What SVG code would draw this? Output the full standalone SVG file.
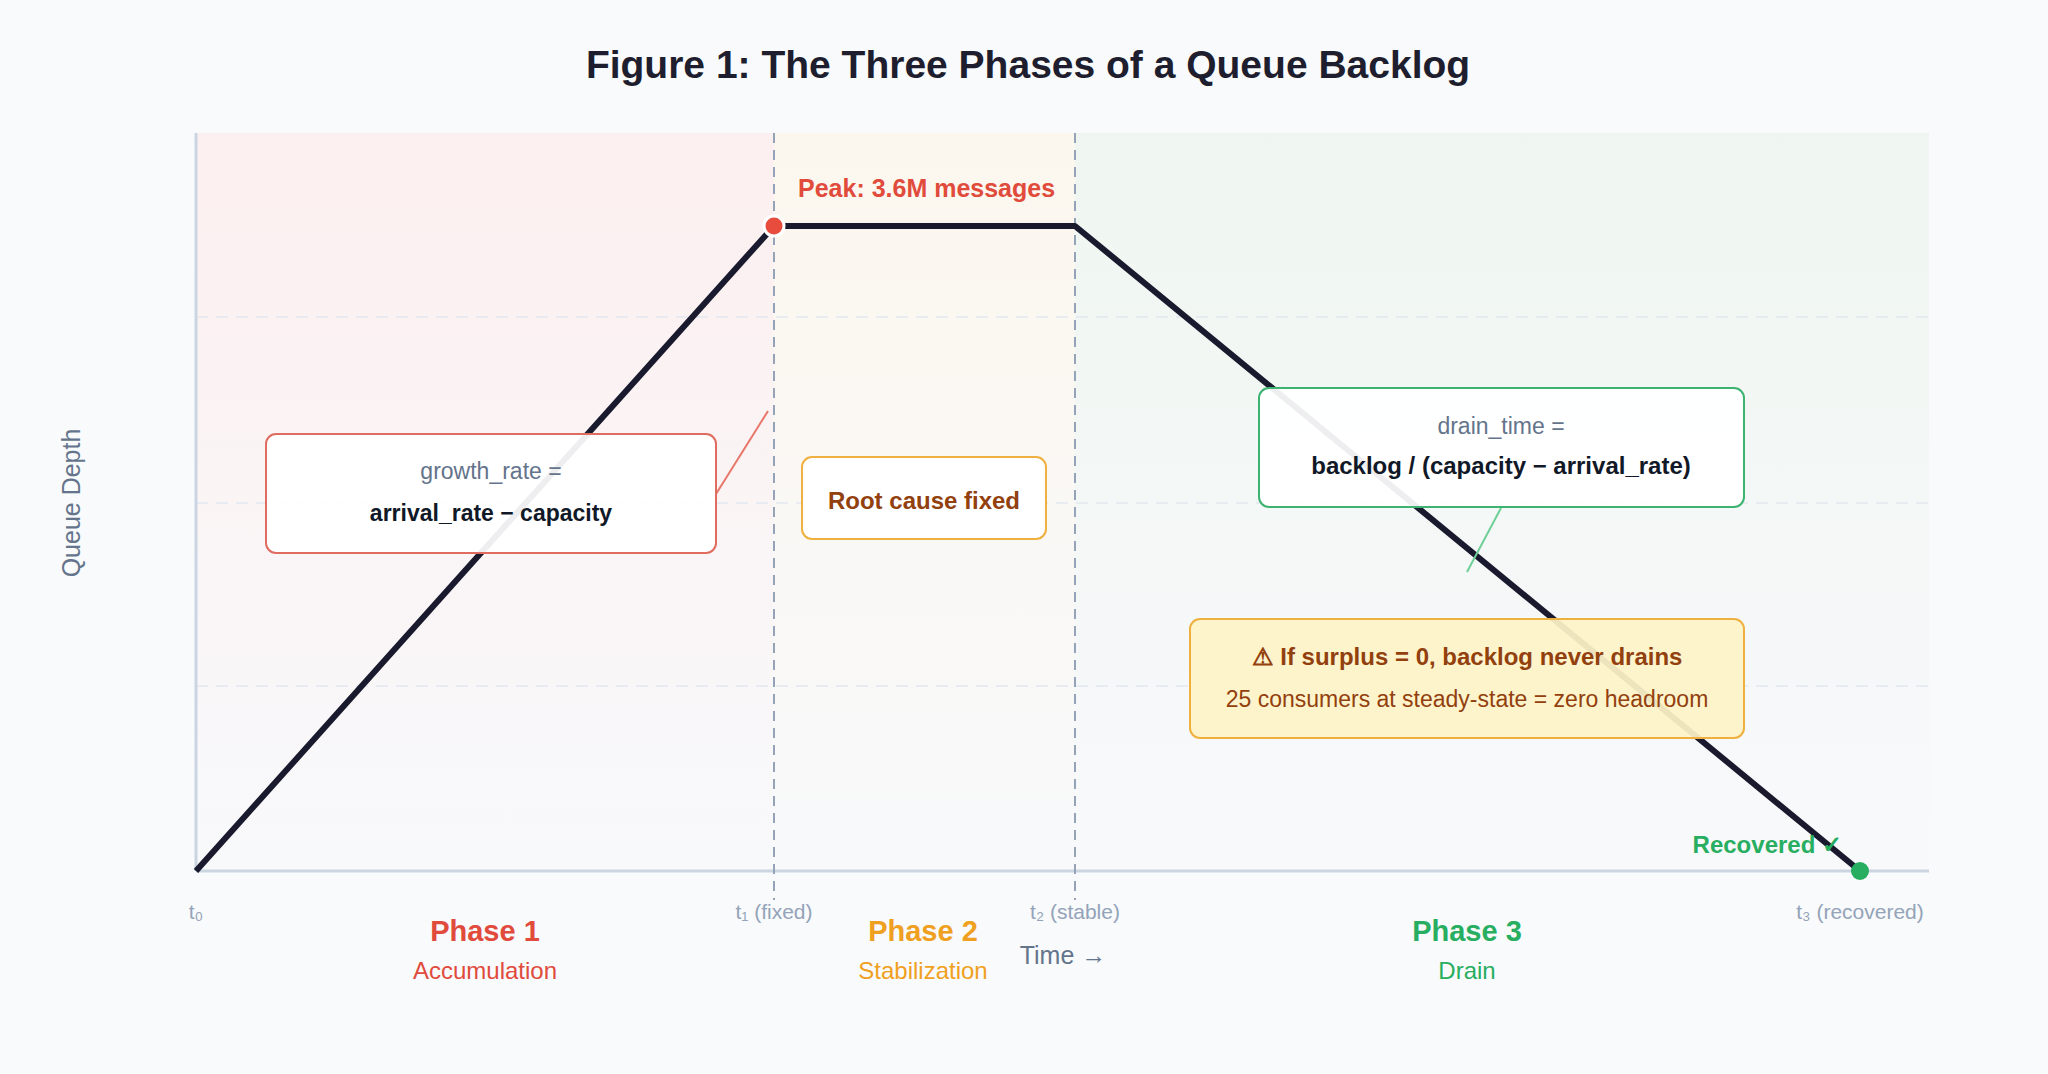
<svg xmlns="http://www.w3.org/2000/svg" width="2048" height="1074" viewBox="0 0 2048 1074">
<defs>
<style>
text{font-family:"Liberation Sans",Arial,sans-serif}
.grid{stroke:#e2e8f0;stroke-width:1.5;stroke-dasharray:12 8}
.vdash{stroke:#94a3b8;stroke-width:2;stroke-dasharray:10 7}
.tick{font-size:21px;fill:#94a3b8;text-anchor:middle}
.ph{font-size:29px;font-weight:bold;text-anchor:middle}
.sub{font-size:24px;text-anchor:middle}
.box{fill:#fff;stroke-width:2}
</style>
<linearGradient id="gr" x1="0" y1="0" x2="0" y2="1"><stop offset="0" stop-color="#fcefef"/><stop offset="1" stop-color="#f8f9fb"/></linearGradient>
<linearGradient id="gy" x1="0" y1="0" x2="0" y2="1"><stop offset="0" stop-color="#fcf7ee"/><stop offset="1" stop-color="#f8f9fb"/></linearGradient>
<linearGradient id="gg" x1="0" y1="0" x2="0" y2="1"><stop offset="0" stop-color="#eff6f1"/><stop offset="1" stop-color="#f8f9fb"/></linearGradient>
</defs>
<rect width="2048" height="1074" fill="#f8fafc"/>
<text x="1028" y="78" font-size="39" font-weight="bold" fill="#1e1e2e" text-anchor="middle">Figure 1: The Three Phases of a Queue Backlog</text>
<g id="bands">
<rect x="196" y="133" width="578" height="738" fill="url(#gr)"/>
<rect x="774" y="133" width="301" height="738" fill="url(#gy)"/>
<rect x="1075" y="133" width="854" height="738" fill="url(#gg)"/>
<line class="grid" x1="196" y1="317" x2="1929" y2="317"/>
<line class="grid" x1="196" y1="503" x2="1929" y2="503"/>
<line class="grid" x1="196" y1="686" x2="1929" y2="686"/>
<line x1="196" y1="133" x2="196" y2="871" stroke="#cbd5e1" stroke-width="3"/>
<line x1="196" y1="871" x2="1929" y2="871" stroke="#cbd5e1" stroke-width="3"/>
<line class="vdash" x1="774" y1="133" x2="774" y2="900"/>
<line class="vdash" x1="1075" y1="133" x2="1075" y2="900"/>
</g>
<g id="connectors">
<polyline points="196,871 774,226 1075,226 1860,871" fill="none" stroke="#1a1a2e" stroke-width="6" stroke-linejoin="round"/>
<line x1="716" y1="494" x2="768" y2="411" stroke="#e8776b" stroke-width="2"/>
<line x1="1501" y1="508" x2="1467" y2="572" stroke="#6fcf97" stroke-width="2"/>
</g>
<g id="peak"><circle cx="774" cy="226" r="10" fill="#e74c3c" stroke="#fff" stroke-width="3"/>
<text x="798" y="197" font-size="25" font-weight="bold" fill="#e04b3c">Peak: 3.6M messages</text></g>
<g id="recovered"><circle cx="1860" cy="871" r="9" fill="#27ae60"/>
<text x="1842" y="853" font-size="24" font-weight="bold" fill="#27ae60" text-anchor="end">Recovered ✓</text></g>
<g id="growth"><rect class="box" x="266" y="434" width="450" height="119" rx="10" stroke="#e06c5f" fill-opacity="0.93"/>
<text x="491" y="479" font-size="23" fill="#64748b" text-anchor="middle">growth_rate =</text>
<text x="491" y="521" font-size="23" font-weight="bold" fill="#111827" text-anchor="middle">arrival_rate − capacity</text></g>
<g id="rootcause"><rect class="box" x="802" y="457" width="244" height="82" rx="10" stroke="#f0b040"/>
<text x="924" y="509" font-size="24" font-weight="bold" fill="#92400e" text-anchor="middle">Root cause fixed</text></g>
<g id="drain"><rect class="box" x="1259" y="388" width="485" height="119" rx="10" stroke="#3cb371" fill-opacity="0.93"/>
<text x="1501" y="434" font-size="23" fill="#64748b" text-anchor="middle">drain_time =</text>
<text x="1501" y="474" font-size="24" font-weight="bold" fill="#111827" text-anchor="middle">backlog / (capacity − arrival_rate)</text></g>
<g id="warning"><rect x="1190" y="619" width="554" height="119" rx="10" fill="#fef3c7" fill-opacity="0.93" stroke="#f0b040" stroke-width="2"/>
<text x="1467" y="665" font-size="24" font-weight="bold" fill="#92400e" text-anchor="middle">⚠ If surplus = 0, backlog never drains</text>
<text x="1467" y="707" font-size="23" fill="#92400e" text-anchor="middle">25 consumers at steady-state = zero headroom</text></g>
<g id="axis-labels">
<text class="tick" x="196" y="919">t₀</text>
<text class="tick" x="774" y="919">t₁ (fixed)</text>
<text class="tick" x="1075" y="919">t₂ (stable)</text>
<text class="tick" x="1860" y="919">t₃ (recovered)</text>
<text x="1063" y="964" font-size="25" fill="#64748b" text-anchor="middle">Time →</text>
<text x="80" y="503" font-size="25" fill="#64748b" text-anchor="middle" transform="rotate(-90 80 503)">Queue Depth</text>
</g>
<g id="phase1"><text class="ph" x="485" y="941" fill="#e04b3c">Phase 1</text><text class="sub" x="485" y="979" fill="#e04b3c">Accumulation</text></g>
<g id="phase2"><text class="ph" x="923" y="941" fill="#f0a020">Phase 2</text><text class="sub" x="923" y="979" fill="#f0a020">Stabilization</text></g>
<g id="phase3"><text class="ph" x="1467" y="941" fill="#27ae60">Phase 3</text><text class="sub" x="1467" y="979" fill="#27ae60">Drain</text></g>
</svg>
